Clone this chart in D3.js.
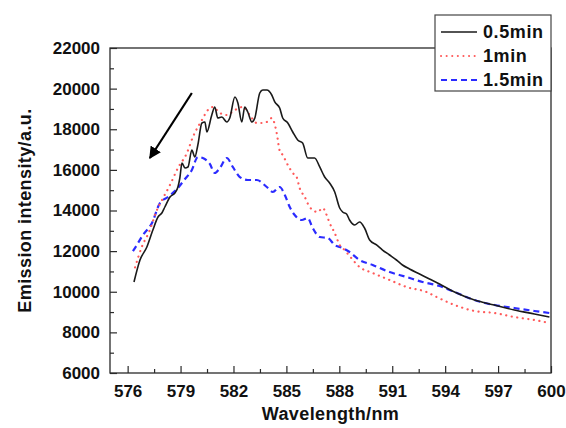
<!DOCTYPE html>
<html><head><meta charset="utf-8">
<script src="https://cdn.jsdelivr.net/npm/d3@7"></script>
<style>
html,body{margin:0;padding:0;background:#fff;}
svg{display:block;font-family:"Liberation Sans",Arial,sans-serif;}
</style></head>
<body><svg id="c" width="566" height="428"></svg>
<script>
// ---- data ----
const seriesNames = ["0.5min", "1min", "1.5min"];
const xTicks = [576, 579, 582, 585, 588, 591, 594, 597, 600];
const yTicks = [6000, 8000, 10000, 12000, 14000, 16000, 18000, 20000, 22000];

const wl05 = [576.36,576.70,577.09,577.43,577.72,577.94,578.11,578.40,578.68,578.85,578.96,579.08,579.25,579.42,579.64,579.81,579.98,580.21,580.38,580.49,580.77,580.94,581.11,581.34,581.62,581.79,582.08,582.25,582.47,582.64,582.81,583.04,583.21,583.49,583.66,583.89,584.17,584.34,584.62,584.79,585.08,585.36,585.64,585.92,586.21,586.60,586.89,587.17,587.45,587.74,588.02,588.19,588.41,588.58,588.87,589.15,589.43,589.72,590.11,590.45,590.85,591.24,591.58,591.98,592.55,593.11,593.68,594.53,595.66,596.79,597.92,599.06,599.91];
const int05 = [10480,11563,12203,13040,13680,13877,14172,14665,14862,15157,15600,16338,16092,16142,16978,16634,17225,18308,18357,17865,18702,19095,18554,18603,18357,18554,19588,19292,18357,19095,18849,18357,18554,19785,19932,19932,19686,19342,19046,18554,18308,17865,17471,17323,16585,16585,16142,15649,15354,14911,14123,13926,13828,13532,13286,13434,13139,12548,12302,12055,11809,11563,11317,11120,10874,10628,10382,9988,9594,9348,9102,8905,8757];

const wl1 = [576.42,576.80,577.26,577.60,578.00,578.40,578.85,579.36,579.70,580.21,580.55,580.83,581.23,581.62,582.08,582.53,583.04,583.32,583.60,583.89,584.17,584.45,584.62,584.79,585.08,585.36,585.58,585.75,586.04,586.32,586.77,587.06,587.28,587.45,587.74,588.02,588.30,588.58,589.15,589.89,590.85,591.81,592.94,593.50,594.53,595.66,596.79,597.92,599.06,599.91];
const int1 = [11200,12200,13040,13900,14600,15255,16092,16831,17619,18455,18948,19095,18800,18702,18948,19095,18554,18308,18308,18357,18554,17815,16950,16732,16240,15846,15649,15108,14665,14172,13926,14123,13779,13385,12892,12302,12055,11760,11218,10923,10579,10234,9988,9750,9348,9052,8954,8757,8610,8462];

const wl15 = [576.30,576.45,576.87,577.38,577.83,578.28,578.79,579.25,579.64,579.98,580.26,580.66,580.94,581.23,581.62,581.96,582.36,582.81,583.32,583.89,584.23,584.62,584.91,585.19,585.47,585.87,586.21,586.49,586.89,587.34,587.74,588.19,588.58,589.15,589.89,590.85,591.81,592.72,593.68,594.53,595.66,596.79,597.92,599.06,599.91];
const int15 = [12000,12200,12794,13385,14369,14665,15050,15550,15994,16634,16585,16290,15846,16092,16585,16142,15649,15502,15502,15157,14911,15157,14763,14172,13779,13532,13631,13139,12695,12646,12302,12154,11957,11563,11317,10972,10726,10480,10283,9988,9594,9348,9200,9052,8954];

// arrow annotation (data units): from -> to
const arrowFrom = [579.64, 19785];
const arrowTo = [577.26, 16585];

// ---- layout ----
const svg = d3.select("#c");
const L = 110, R = 551, T = 48, B = 373;
const x = d3.scaleLinear().domain([575, 600]).range([L, R]);
const y = d3.scaleLinear().domain([6000, 22000]).range([B, T]);
const frameColor = "#2a2a2a";

// axes
const xAxis = d3.axisBottom(x).tickValues(xTicks).tickSize(-7).tickPadding(12).tickFormat(d3.format("d"));
const xMinor = d3.axisBottom(x).tickValues(d3.range(577.5, 600, 3)).tickSize(-4).tickFormat("");
const yAxis = d3.axisLeft(y).tickValues(yTicks).tickSize(-7).tickPadding(10).tickFormat(d3.format("d"));
const yMinor = d3.axisLeft(y).tickValues(d3.range(7000, 22000, 2000)).tickSize(-4).tickFormat("");

function styleAxis(g){
  g.select(".domain").remove();
  g.selectAll("line").attr("stroke", frameColor).attr("stroke-width", 1.2);
  g.selectAll("text").attr("font-size", 17).attr("font-weight", "bold").attr("fill", "#111")
    .attr("font-family", "'Liberation Sans', Arial, sans-serif");
}
svg.append("g").attr("transform", `translate(0,${B})`).call(xAxis).call(styleAxis);
svg.append("g").attr("transform", `translate(0,${B})`).call(xMinor).call(styleAxis);
svg.append("g").attr("transform", `translate(${L},0)`).call(yAxis).call(styleAxis);
svg.append("g").attr("transform", `translate(${L},0)`).call(yMinor).call(styleAxis);

// frame
svg.append("rect").attr("x", L).attr("y", T).attr("width", R - L).attr("height", B - T)
  .attr("fill", "none").attr("stroke", frameColor).attr("stroke-width", 1.3);

// lines
const line = d3.line().x(d => x(d[0])).y(d => y(d[1])).curve(d3.curveMonotoneX);
const zip = (a, b) => a.map((v, i) => [v, b[i]]);
const styles = [
  {color: "#1a1a1a", width: 1.6, dash: null, cap: "butt"},
  {color: "#ff5a5a", width: 2.2, dash: "0.1,5.5", cap: "round"},
  {color: "#2b2bff", width: 2.2, dash: "6,4", cap: "butt"}
];
const data = [zip(wl05, int05), zip(wl1, int1), zip(wl15, int15)];
// draw blue first, then red, then black on top
[2, 1, 0].forEach(i => {
  svg.append("path").datum(data[i]).attr("d", line)
    .attr("fill", "none").attr("stroke", styles[i].color).attr("stroke-width", styles[i].width)
    .attr("stroke-dasharray", styles[i].dash).attr("stroke-linecap", styles[i].cap)
    .attr("stroke-linejoin", "round");
});

// arrow
const defs = svg.append("defs");
defs.append("marker").attr("id", "ah").attr("viewBox", "0 0 10 10").attr("refX", 9).attr("refY", 5)
  .attr("markerWidth", 5.5).attr("markerHeight", 5.5).attr("orient", "auto")
  .append("path").attr("d", "M0,0 L10,5 L0,10 z").attr("fill", "#000");
svg.append("line").attr("x1", x(arrowFrom[0])).attr("y1", y(arrowFrom[1]))
  .attr("x2", x(arrowTo[0])).attr("y2", y(arrowTo[1]))
  .attr("stroke", "#000").attr("stroke-width", 2.2).attr("marker-end", "url(#ah)");

// legend
const lg = svg.append("g");
lg.append("rect").attr("x", 435).attr("y", 15).attr("width", 116).attr("height", 76)
  .attr("fill", "#fff").attr("stroke", "#444").attr("stroke-width", 1.2);
seriesNames.forEach((n, i) => {
  const yy = 32 + i * 24;
  lg.append("line").attr("x1", 441).attr("x2", 477).attr("y1", yy).attr("y2", yy)
    .attr("stroke", styles[i].color).attr("stroke-width", i === 0 ? 1.5 : 2)
    .attr("stroke-dasharray", styles[i].dash).attr("stroke-linecap", styles[i].cap);
  lg.append("text").attr("x", 483).attr("y", yy + 6).text(n)
    .attr("font-size", 18).attr("font-weight", "bold").attr("letter-spacing", 0.6).attr("fill", "#111");
});

// axis titles
svg.append("text").attr("x", (L + R) / 2).attr("y", 420).attr("text-anchor", "middle")
  .attr("font-size", 18).attr("font-weight", "bold").attr("letter-spacing", 0.4).attr("fill", "#111").text("Wavelength/nm");
svg.append("text").attr("transform", `translate(31,${(T + B) / 2}) rotate(-90)`).attr("text-anchor", "middle")
  .attr("font-size", 18).attr("font-weight", "bold").attr("letter-spacing", 0.4).attr("fill", "#111").text("Emission intensity/a.u.");
</script></body></html>
